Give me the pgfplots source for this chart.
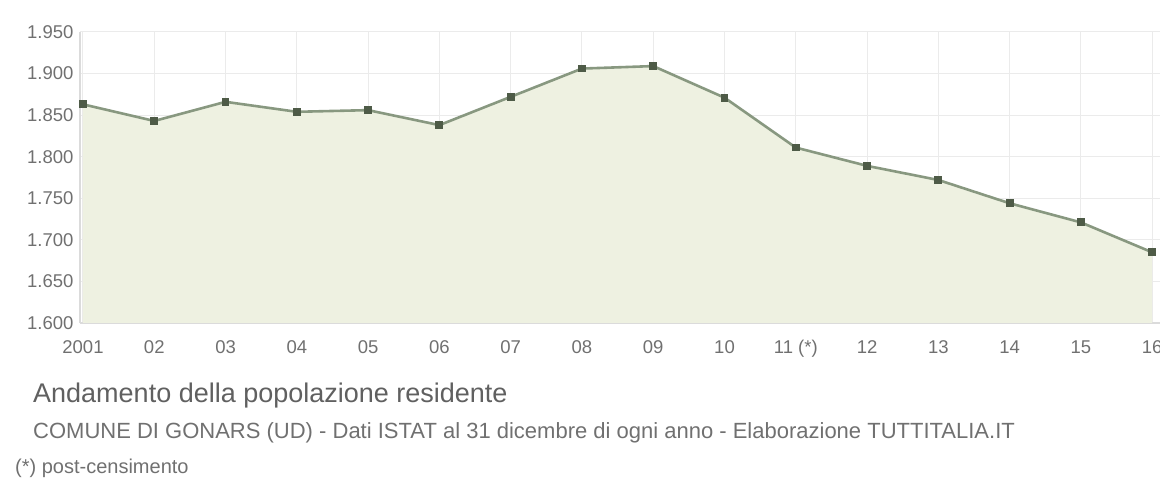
\documentclass[border=0pt]{standalone}
\usepackage{fontspec}
\setmainfont{Liberation Sans}
\usepackage{pgfplots}
\pgfplotsset{compat=1.18}
\definecolor{fillc}{HTML}{EEF1E1}
\definecolor{linec}{HTML}{889880}
\definecolor{markc}{HTML}{4E5B47}
\definecolor{gridc}{HTML}{EBEBEB}
\definecolor{txt}{HTML}{707070}
\definecolor{ttl}{HTML}{606060}
\begin{document}
\begin{tikzpicture}[x=1pt,y=1pt]
\path[use as bounding box] (0,0) rectangle (1160,481);
\begin{axis}[
  at={(80pt,158pt)}, anchor=south west,
  scale only axis, width=1080pt, height=291pt,
  xmin=-0.042, xmax=15.11, ymin=1600, ymax=1950,
  ytick={1600,1650,...,1950},
  xtick={0,...,15},
  xticklabels={2001,02,03,04,05,06,07,08,09,10,11 (*),12,13,14,15,16},
  /pgf/number format/assume math mode=true,
  /pgf/number format/1000 sep={.},
  tick label style={font=\fontsize{18.5}{18.5}\selectfont, text=txt},
  xtick style={draw=none}, ytick style={draw=none},
  grid=major, major grid style={draw=gridc, line width=1pt},
  axis x line*=bottom, axis y line*=left,
  axis line style={draw=gridc!70!black!40, line width=1.2pt, -},
  xticklabel style={anchor=north, text height=14pt, text depth=4pt, yshift=-13pt},
  yticklabel style={xshift=-3pt},
  clip=false,
]
\addplot[draw=none, fill=fillc] table[x=x,y=y] {
x y
0 1863
1 1843
2 1866
3 1854
4 1856
5 1838
6 1872
7 1906
8 1909
9 1871
10 1811
11 1789
12 1772
13 1744
14 1721
15 1685
} \closedcycle;
\addplot[draw=linec, line width=2.6pt, mark=square*, mark size=2.6pt, mark options={fill=markc, draw=markc}] table[x=x,y=y] {
x y
0 1863
1 1843
2 1866
3 1854
4 1856
5 1838
6 1872
7 1906
8 1909
9 1871
10 1811
11 1789
12 1772
13 1744
14 1721
15 1685
};
\end{axis}
\node[anchor=base west, inner sep=0pt, text=ttl, font=\fontsize{27}{27}\selectfont] at (33,78) {Andamento della popolazione residente};
\node[anchor=base west, inner sep=0pt, text=txt, font=\fontsize{22}{22}\selectfont] at (33,42) {COMUNE DI GONARS (UD) - Dati ISTAT al 31 dicembre di ogni anno - Elaborazione TUTTITALIA.IT};
\node[anchor=base west, inner sep=0pt, text=txt, font=\fontsize{20}{20}\selectfont] at (15,7) {(*) post-censimento};
\end{tikzpicture}
\end{document}
